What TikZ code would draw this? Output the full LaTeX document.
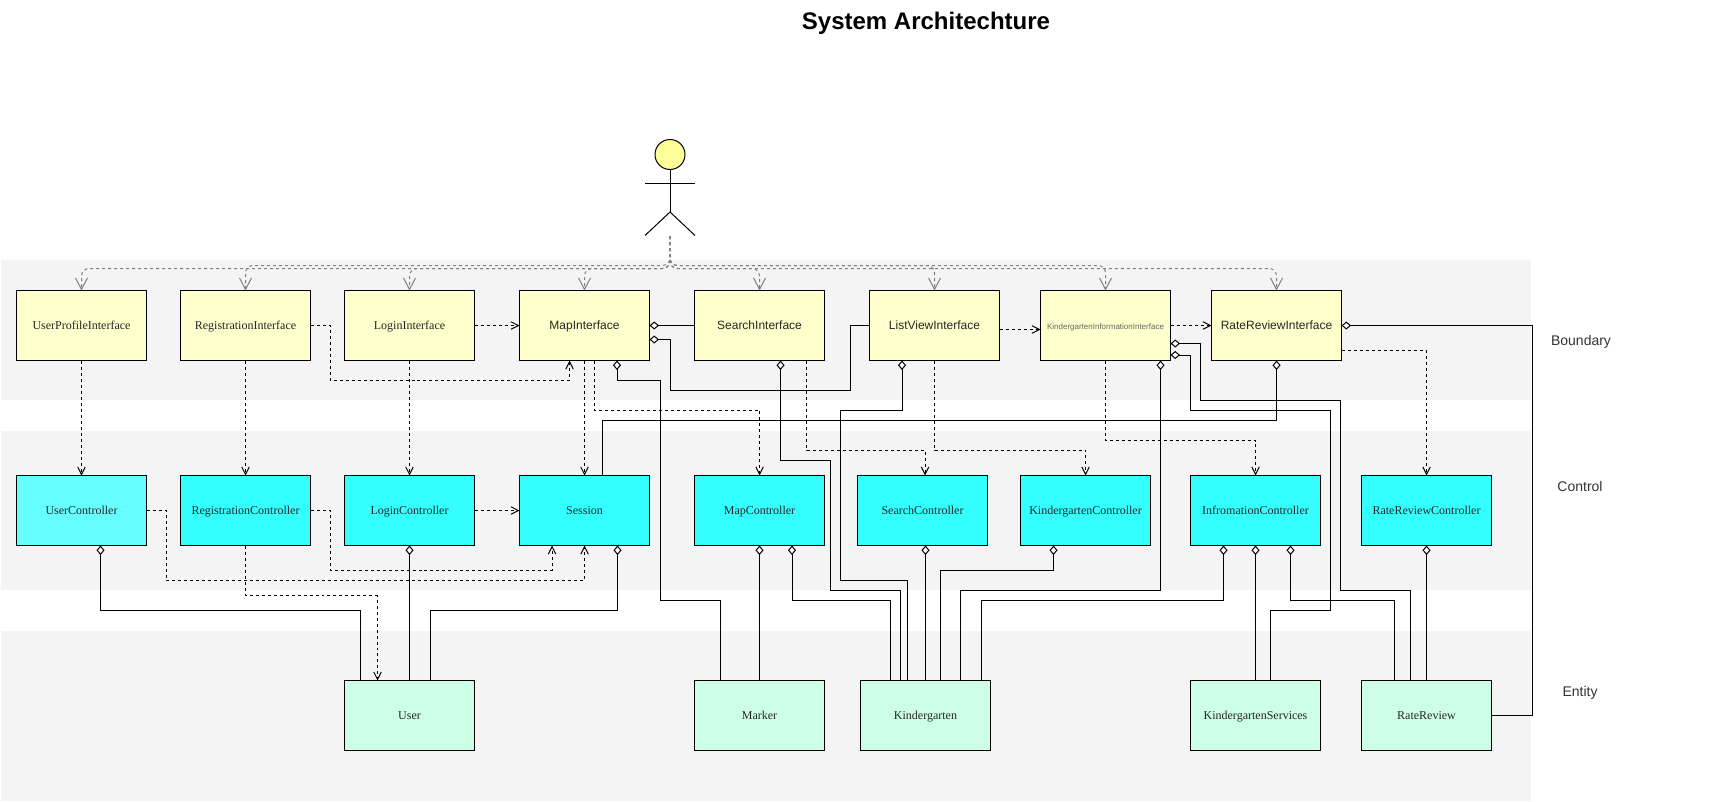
\documentclass[tikz,border=0pt]{standalone}
\usepackage{fontspec}
\setmainfont{Liberation Serif}
\newfontfamily\arialfont{Liberation Sans}
\usetikzlibrary{positioning,arrows.meta}

\definecolor{bandgray}{HTML}{F4F4F4}
\definecolor{uiyellow}{HTML}{FFFFCC}
\definecolor{ctrlcyan}{HTML}{33FFFF}
\definecolor{ctrllight}{HTML}{66FFFF}
\definecolor{entgreen}{HTML}{CCFFE6}
\definecolor{headyellow}{HTML}{FFFF99}

\tikzset{
  every path/.style={line width=0.02cm},
  band/.style={fill=bandgray,draw=none,anchor=north west,inner sep=0,outer sep=0,minimum width=30.6cm},
  lane/.style={font=\arialfont\fontsize{7.97pt}{9pt}\selectfont,text=black!80,inner sep=0},
  cls/.style={draw=black,minimum width=2.6cm,minimum height=1.4cm,inner sep=0,outer sep=0,
    text height=0.17cm,text depth=0cm,text=black!85,font=\fontsize{6.83pt}{8pt}\selectfont},
  uibox/.style={cls,fill=uiyellow},
  ctrlbox/.style={cls,fill=ctrlcyan},
  entbox/.style={cls,fill=entgreen},
  sanslabel/.style={font=\arialfont\fontsize{6.83pt}{8pt}\selectfont},
  dep/.style={draw=black,dash pattern=on 0.06cm off 0.06cm,
    -{Straight Barb[length=0.15cm,width=0.15cm,line width=0.02cm]}},
  call/.style={draw=black!50,dash pattern=on 0.06cm off 0.06cm,rounded corners=0.15cm,
    -{Straight Barb[length=0.23cm,width=0.24cm,line width=0.02cm]}},
  aggr/.style={draw=black,{Diamond[open,fill=white,length=0.19cm,width=0.16cm,line width=0.02cm]}-},
}

\begin{document}
\begin{tikzpicture}
\useasboundingbox (0,0) rectangle (34.42,-16.02);

\node[band,minimum height=2.8cm] (bandB) at (0.02,-5.19) {};
\node[band,minimum height=3.18cm] (bandC) at (0.02,-8.62) {};
\node[band,minimum height=3.4cm] (bandE) at (0.02,-12.61) {};

\node[font=\arialfont\bfseries\fontsize{13.66pt}{16pt}\selectfont,inner sep=0] (title) at (18.52,-0.47) {System Architechture};
\node[lane] (laneB) at (31.62,-6.84) {Boundary};
\node[lane] (laneC) at (31.6,-9.72) {Control};
\node[lane] (laneE) at (31.6,-13.86) {Entity};

% actor
\node[circle,draw=black,fill=headyellow,minimum size=0.6cm,inner sep=0,outer sep=0] (head) at (13.4,-3.09) {};
\coordinate (hip) at (13.4,-4.24);
\coordinate (armL) at (12.9,-3.66);
\coordinate (armR) at (13.9,-3.66);
\coordinate (footL) at (12.9,-4.71);
\coordinate (footR) at (13.9,-4.71);
\coordinate (hub) at (13.4,-4.72);
\draw (head.south) -- (hip);
\draw (armL) -- (armR);
\draw (footL) -- (hip) -- (footR);

% boundary
\node[uibox,anchor=north west] (userI) at (0.33,-5.81) {UserProfileInterface};
\node[uibox,right=0.68cm of userI] (regI) {RegistrationInterface};
\node[uibox,right=0.68cm of regI] (loginI) {LoginInterface};
\node[uibox,sanslabel,right=0.9cm of loginI] (mapI) {MapInterface};
\node[uibox,sanslabel,right=0.9cm of mapI] (searchI) {SearchInterface};
\node[uibox,sanslabel,right=0.9cm of searchI] (listI) {ListViewInterface};
\node[uibox,right=0.82cm of listI,font=\arialfont\fontsize{4.55pt}{6pt}\selectfont,text=black!60] (kgI) {KindergartenInformationInterface};
\node[uibox,sanslabel,right=0.82cm of kgI] (rateI) {RateReviewInterface};

% control
\node[ctrlbox,fill=ctrllight,below=2.3cm of userI] (userC) {UserController};
\node[ctrlbox,below=2.3cm of regI] (regC) {RegistrationController};
\node[ctrlbox,below=2.3cm of loginI] (loginC) {LoginController};
\node[ctrlbox,below=2.3cm of mapI] (sess) {Session};
\node[ctrlbox,below=2.3cm of searchI] (mapC) {MapController};
\node[ctrlbox,right=0.66cm of mapC] (searchC) {SearchController};
\node[ctrlbox,right=0.66cm of searchC] (kgC) {KindergartenController};
\node[ctrlbox,right=0.8cm of kgC] (infoC) {InfromationController};
\node[ctrlbox,right=0.82cm of infoC] (rateC) {RateReviewController};

% entity
\node[entbox,below=2.7cm of loginC] (user) {User};
\node[entbox,below=2.7cm of mapC] (marker) {Marker};
\node[entbox,right=0.72cm of marker] (kg) {Kindergarten};
\node[entbox,below=2.7cm of infoC] (kgS) {KindergartenServices};
\node[entbox,below=2.7cm of rateC] (rate) {RateReview};

% actor calls
\draw[call] (hub) |- ([yshift=0.44cm]userI.north) -- (userI.north);
\draw[call] (hub) |- ([yshift=0.5cm]regI.north) -- (regI.north);
\draw[call] (hub) |- ([yshift=0.44cm]loginI.north) -- (loginI.north);
\draw[call] (hub) |- ([yshift=0.44cm]mapI.north) -- (mapI.north);
\draw[call] (hub) |- ([yshift=0.44cm]searchI.north) -- (searchI.north);
\draw[call] (hub) |- ([yshift=0.5cm]listI.north) -- (listI.north);
\draw[call] (hub) |- ([yshift=0.5cm]kgI.north) -- (kgI.north);
\draw[call] (hub) |- ([yshift=0.44cm]rateI.north) -- (rateI.north);

% dependencies
\draw[dep] (loginI) -- (mapI);
\draw[dep] (regI.east) -| ++(0.4,-1.1) -| ([xshift=-0.3cm]mapI.south);
\draw[dep] (userI) -- (userC);
\draw[dep] (regI) -- (regC);
\draw[dep] (loginI) -- (loginC);
\draw[dep] (mapI) -- (sess);
\draw[dep] ([xshift=0.2cm]mapI.south) -- ++(0,-1) -| (mapC.north);
\draw[dep] ([xshift=0.94cm]searchI.south) -- ++(0,-1.8) -| ([xshift=0.05cm]searchC.north);
\draw[dep] (listI.south) -- ++(0,-1.8) -| (kgC.north);
\draw[dep] ([yshift=-0.08cm]listI.east) -- ([yshift=-0.08cm]kgI.west);
\draw[dep] (kgI) -- (rateI);
\draw[dep] (kgI.south) -- ++(0,-1.6) -| (infoC.north);
\draw[dep] ([yshift=-0.5cm]rateI.east) -| (rateC.north);
\draw[dep] (userC.east) -| ++(0.4,-1.4) -| (sess.south);
\draw[dep] (regC.east) -| ++(0.4,-1.2) -| ([xshift=-0.65cm]sess.south);
\draw[dep] (loginC) -- (sess);
\draw[dep] (regC.south) -- ++(0,-1) -| ([xshift=-0.64cm]user.north);

% aggregations
\draw[aggr] ([xshift=0.38cm]userC.south) -- ++(0,-1.3) -| ([xshift=-0.98cm]user.north);
\draw[aggr] (loginC) -- (user);
\draw[aggr] ([xshift=0.66cm]sess.south) -- ++(0,-1.3) -| ([xshift=0.42cm]user.north);
\draw[aggr] (mapI) -- (searchI);
\draw[aggr] ([xshift=0.65cm]mapI.south) |- ++(0.87,-0.4) -- ++(0,-4.4) -| ([xshift=-0.78cm]marker.north);
\draw[aggr] ([yshift=-0.28cm]mapI.east) -| ++(0.42,-1.02) -| ([xshift=-0.38cm]listI.west) -- (listI.west);
\draw[aggr] ([xshift=0.42cm]searchI.south) |- ++(1,-2) -- ++(0,-2.6) -| ([xshift=-0.5cm]kg.north);
\draw[aggr] ([xshift=-0.65cm]listI.south) |- ++(-1.24,-1) -- ++(0,-3.4) -| ([xshift=-0.36cm]kg.north);
\draw[aggr] (mapC) -- (marker);
\draw[aggr] ([xshift=0.65cm]mapC.south) -- ++(0,-1.1) -| ([xshift=-0.7cm]kg.north);
\draw[aggr] ([xshift=0.06cm]searchC.south) -- (kg.north);
\draw[aggr] ([xshift=-0.64cm]kgC.south) -- ++(0,-0.5) -| ([xshift=0.3cm]kg.north);
\draw[aggr] ([xshift=1.1cm]kgI.south) -- ++(0,-4.6) -| ([xshift=0.7cm]kg.north);
\draw[aggr] ([xshift=-0.64cm]infoC.south) -- ++(0,-1.1) -| ([xshift=1.12cm]kg.north);
\draw[aggr] (infoC) -- (kgS);
\draw[aggr] ([xshift=0.7cm]infoC.south) -- ++(0,-1.1) -| ([xshift=-0.64cm]rate.north);
\draw[aggr] (rateC) -- (rate);
\draw[aggr] ([yshift=-0.36cm]kgI.east) -| ++(0.6,-1.14) -- ++(2.8,0) -- ++(0,-3.8) -| ([xshift=-0.32cm]rate.north);
\draw[aggr] ([yshift=-0.59cm]kgI.east) -| ++(0.4,-1.11) -- ++(2.8,0) -- ++(0,-4) -| ([xshift=0.3cm]kgS.north);
\draw[aggr] (rateI.south) -- ++(0,-1.2) -| ([xshift=0.36cm]sess.north);
\draw[aggr] (rateI.east) -- ++(3.82,0) |- (rate.east);
\end{tikzpicture}
\end{document}
